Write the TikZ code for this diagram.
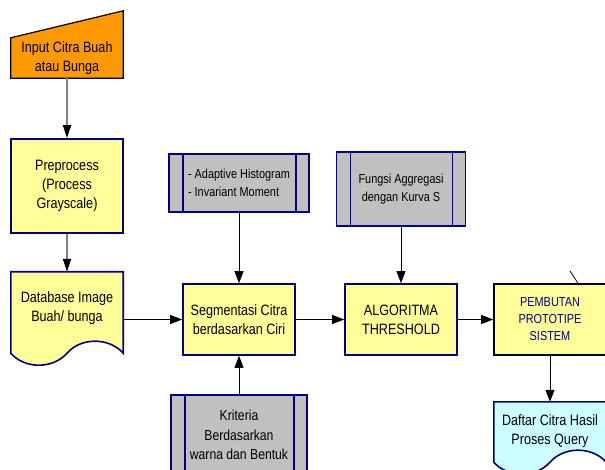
\documentclass[tikz,border=0pt]{standalone}
\usepackage{fontspec}
\setmainfont{Liberation Sans}[FakeStretch=0.84]
\usetikzlibrary{arrows.meta,backgrounds}
\definecolor{navyb}{HTML}{000080}
\definecolor{inorange}{HTML}{FF9900}
\definecolor{boxyellow}{HTML}{FFFF99}
\definecolor{boxgray}{HTML}{C0C0C0}
\definecolor{boxcyan}{HTML}{CCFFFF}
\definecolor{linegray}{HTML}{808080}
\tikzset{
  base/.style={inner sep=0pt, align=center, font=\fontsize{15pt}{19pt}\selectfont},
  procbox/.style={base, draw=navyb, fill=boxyellow, line width=1.6pt, minimum width=112pt, minimum height=71pt},
  predef/.style={base, draw=navyb, fill=boxgray, line width=1.6pt,
    font=\fontsize{13pt}{18pt}\selectfont,
    path picture={
      \draw[navyb, line width=1.6pt]
        ([xshift=14pt]path picture bounding box.north west) -- ([xshift=14pt]path picture bounding box.south west)
        ([xshift=-13pt]path picture bounding box.north east) -- ([xshift=-13pt]path picture bounding box.south east);}},
  conn/.style={draw=black, line width=0.8pt, -{Triangle[length=12pt,width=9pt]}},
  gconn/.style={draw=linegray, line width=1.8pt, -{Triangle[length=13pt,width=8pt,fill=black,color=black]}},
  shapeline/.style={draw=navyb, line width=1.6pt},
}
\begin{document}
\begin{tikzpicture}[x=1pt,y=-1pt]
\useasboundingbox (0,0) rectangle (605,470);
\clip (0,0) rectangle (605,470);

% input (manual input)
\node[base, minimum width=112pt, minimum height=40pt] (in) at (67,58) {Input Citra Buah\\atau Bunga};
\begin{pgfonlayer}{background}
\draw[fill=inorange, draw=black, line width=1.2pt]
  (in.south west) -- (in.north west) -- ([yshift=27pt]in.north east) -- (in.south east) -- cycle;
\end{pgfonlayer}

% preprocess
\node[procbox, minimum height=94pt] (pre) at (67,186) {Preprocess\\(Process\\Grayscale)};

% database (document)
\node[base, minimum width=112pt, minimum height=72pt] (db) at (67,308) {Database Image\\Buah/ bunga};
\begin{pgfonlayer}{background}
\draw[shapeline, fill=boxyellow]
  (db.north west) -- ([yshift=-9pt]db.south west)
  .. controls ([xshift=14pt,yshift=-25pt]db.south west) and ([xshift=42pt,yshift=-25pt]db.south west) .. ([yshift=-9pt]db.south)
  .. controls ([xshift=14pt,yshift=7pt]db.south) and ([xshift=42pt,yshift=7pt]db.south) .. ([yshift=-9pt]db.south east)
  -- (db.north east) -- cycle;
\end{pgfonlayer}

% main chain
\node[procbox] (seg) at (239,319.5) {Segmentasi Citra\\berdasarkan Ciri};
\node[procbox] (alg) at (401,319.5) {ALGORITMA\\THRESHOLD};
\node[procbox, draw=black, text=navyb, font=\fontsize{13pt}{17pt}\selectfont] (pb) at (550,319.5) {PEMBUTAN\\PROTOTIPE\\SISTEM};

% predefined process boxes
\node[predef, minimum width=140pt, minimum height=58pt, align=left] (adh) at (239,183) {- Adaptive Histogram\\- Invariant Moment};
\node[predef, minimum width=129pt, minimum height=74pt] (fun) at (401,189) {Fungsi Aggregasi\\dengan Kurva S};
\node[predef, minimum width=136pt, minimum height=80pt, font=\fontsize{14.5pt}{19.5pt}\selectfont] (kri) at (239,435) {Kriteria\\Berdasarkan\\warna dan Bentuk};

% daftar (document)
\node[base, minimum width=112pt, minimum height=58pt] (dq) at (550,431) {Daftar Citra Hasil\\Proses Query};
\begin{pgfonlayer}{background}
\draw[shapeline, fill=boxcyan]
  (dq.north west) -- ([yshift=-2pt]dq.south west)
  .. controls ([xshift=14pt,yshift=-18pt]dq.south west) and ([xshift=42pt,yshift=-18pt]dq.south west) .. ([yshift=-2pt]dq.south)
  .. controls ([xshift=14pt,yshift=14pt]dq.south) and ([xshift=42pt,yshift=14pt]dq.south) .. ([yshift=-2pt]dq.south east)
  -- (dq.north east) -- cycle;
\end{pgfonlayer}

% connectors
\draw[gconn] (in.south) -- (pre.north);
\draw[gconn] (pre.south) -- (db.north);
\draw[conn] (db.east |- seg.west) -- (seg.west);
\draw[conn] (seg.east) -- (alg.west);
\draw[conn] (alg.east) -- (pb.west);
\draw[conn] (adh.south) -- (seg.north);
\draw[conn] (fun.south) -- (alg.north);
\draw[conn] (kri.north) -- (seg.south);
\draw[conn] (pb.south) -- (dq.north);
\coordinate (up) at (570,271);
\draw[draw=black, line width=0.8pt] (up) -- ([xshift=28pt]pb.north);
\end{tikzpicture}
\end{document}
